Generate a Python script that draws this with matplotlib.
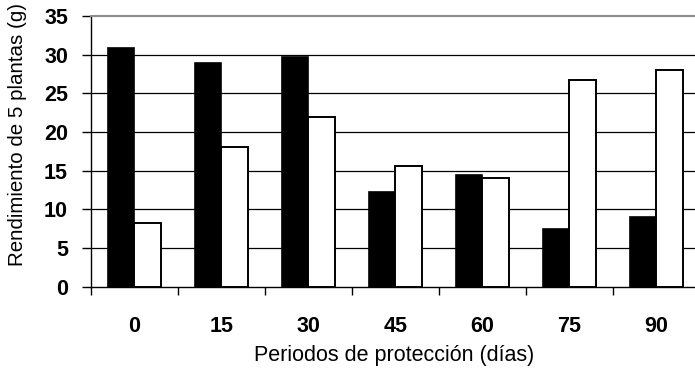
import matplotlib.pyplot as plt
import numpy as np

plt.rcParams['font.family'] = ['Liberation Sans', 'DejaVu Sans']

# Periodos de protección (días)
periodos = ['0', '15', '30', '45', '60', '75', '90']
serie_negra = [30.9, 28.9, 29.7, 12.2, 14.45, 7.5, 9.05]
serie_blanca = [8.2, 18.0, 21.9, 15.65, 14.1, 26.7, 28.0]
y_ticks = [0, 5, 10, 15, 20, 25, 30, 35]

fig = plt.figure(figsize=(6.95, 3.78), dpi=100)
ax = fig.add_axes([91 / 695, 91.3 / 378, 608.7 / 695, 270.7 / 378])

x = np.arange(len(periodos))
w = 0.305
ax.bar(x - w / 2, serie_negra, w, color='black', edgecolor='black', linewidth=1.2, zorder=3)
ax.bar(x + w / 2, serie_blanca, w, color='white', edgecolor='black', linewidth=1.4, zorder=3)

ax.set_xlim(-0.5, len(periodos) - 0.5)
ax.set_ylim(0, 35)
ax.set_yticks(y_ticks)
ax.set_yticklabels([str(t) for t in y_ticks], fontsize=15.5, fontweight='bold')
ax.tick_params(axis='y', direction='out', length=6.5, width=1, pad=10)

# category labels at centres, tick marks at boundaries
ax.set_xticks(x)
ax.set_xticklabels(periodos, fontsize=15.5, fontweight='bold')
ax.set_xticks(np.arange(-0.5, len(periodos)), minor=True)
ax.tick_params(axis='x', which='major', length=0, pad=21)
ax.tick_params(axis='x', which='minor', direction='out', length=5.5, width=1)

for v in y_ticks[1:-1]:
    ax.axhline(v, color='black', linewidth=0.9, zorder=1)

ax.spines['top'].set_color('#8c8c8c')
ax.spines['top'].set_linewidth(1.5)
ax.spines['right'].set_visible(False)
ax.spines['left'].set_linewidth(1)
ax.spines['bottom'].set_linewidth(1)

fig.text(394 / 695, 1 - 356 / 378, 'Periodos de protección (días)', fontsize=15.5,
         ha='center', va='center')
fig.text(18 / 695, 1 - 135 / 378, 'Rendimiento de 5 plantas (g)', fontsize=14.8,
         ha='center', va='center', rotation=90)

fig.savefig('out.png', dpi=100)
